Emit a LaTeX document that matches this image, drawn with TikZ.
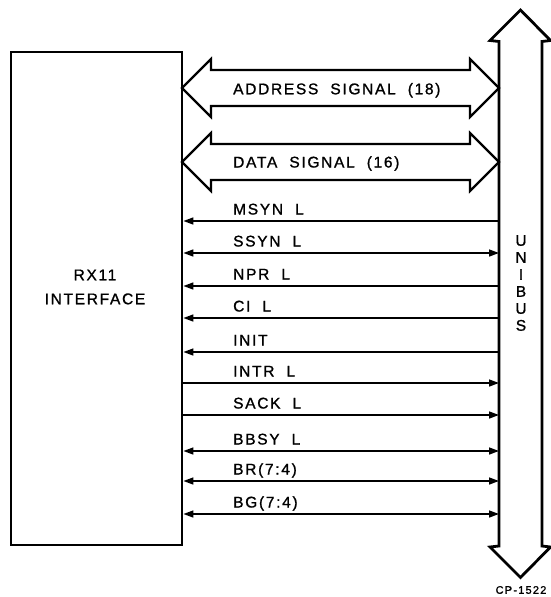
\documentclass[tikz,border=0pt]{standalone}
\usepackage{fontspec}
\usetikzlibrary{arrows.meta}
\newfontfamily\lettering[LetterSpace=11,WordSpace=2,FakeBold=1.2]{Liberation Sans}
\newcommand\sigfont{\lettering\fontsize{15.5}{18}\selectfont}

\tikzset{
  fat/.style={draw, line width=2.2pt, line join=miter},
  siglabel/.style={anchor=base west, inner sep=0pt, font=\sigfont},
  sigline/.style={line width=1.5pt},
  tobox/.style={<-},
  tobus/.style={->},
  bothway/.style={<->},
}

\begin{document}
\begin{tikzpicture}[x=1pt, y=-1pt, >={Triangle[length=10pt,width=7pt]}]
  \useasboundingbox (0,0) rectangle (551,597);
  % --- Left: interface box ---
  \node[draw, line width=2.8pt, minimum width=171pt, minimum height=493pt] (rx) at (96.5,298.5) {};
  \node[align=center, inner sep=0pt, font=\lettering\fontsize{15.5}{24}\selectfont] (rxname) at (95,287) {RX11\\INTERFACE};
  % --- Right: the bus ---
  \draw[fat, line width=2.8pt] (520.5,10) -- (550.5,40.5) -- (542,41.5) -- (542,546) -- (550.5,547)
       -- (520.5,577.5) -- (490,547) -- (499,546) -- (499,41.5) -- (490,40.5) -- cycle;
  \coordinate (busedge) at (499,294);
  \node[align=center, inner sep=0pt, font=\lettering\fontsize{15.5}{17}\selectfont] (busname) at (521,283) {U\\N\\I\\B\\U\\S};
  % --- Wide paths ---
  \foreach \cy in {88, 162} {
    \draw[fat] (182,\cy) -- (211,\cy-29) -- (211,\cy-18) -- (470,\cy-18) -- (470,\cy-29)
         -- (499,\cy) -- (470,\cy+29) -- (470,\cy+18) -- (211,\cy+18) -- (211,\cy+29) -- cycle;
  }
  \node[siglabel] (addrname) at (233,94.3) {ADDRESS SIGNAL (18)};
  \node[siglabel] (dataname) at (233,167.5) {DATA SIGNAL (16)};
  % --- Control lines ---
  \foreach \y/\name/\dir in {221/MSYN L/tobox, 253/SSYN L/bothway, 286/NPR L/tobox,
                             318/CI L/tobox, 352/INIT/tobox, 383/INTR L/tobus,
                             415/SACK L/tobus, 451/BBSY L/bothway,
                             481/BR(7:4)/bothway, 514/BG(7:4)/bothway} {
    \draw[sigline, \dir] (rx.east |- 0,\y) -- (busedge |- 0,\y);
    \node[siglabel] at (233,\y-6.5) {\name};
  }
  \node[font=\lettering\fontsize{11}{12}\selectfont] (cpnum) at (521,590) {CP-1522};
\end{tikzpicture}
\end{document}
